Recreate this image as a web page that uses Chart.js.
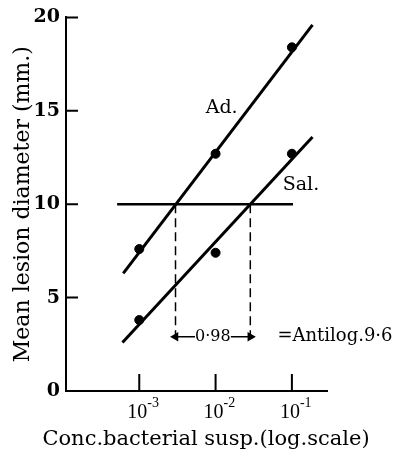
<!DOCTYPE html>
<html>
<head>
<meta charset="utf-8">
<script src="https://cdn.jsdelivr.net/npm/chart.js@4.4.0/dist/chart.umd.min.js"></script>
<style>
html, body { margin: 0; padding: 0; background: #fff; }
canvas { display: block; }
</style>
</head>
<body>
<canvas id="mycanvas" width="394" height="452"></canvas>
<script>
// log10 of the concentration, with superscript labels
var concLog = [-3, -2, -1];
var concExp = ['-3', '-2', '-1'];
var yTicks = [0, 5, 10, 15, 20];

// mean lesion diameter (mm.)
var adDiam = [7.6, 12.7, 18.4];
var salDiam = [3.8, 7.4, 12.7];

// fitted lines (end points, log conc / mm.)
var adFitX = [-3.21, -0.73];
var adFitY = [6.3, 19.6];
var salFitX = [-3.22, -0.73];
var salFitY = [2.6, 13.6];

// 10 mm. level and where the lines cross it
var refLevel = 10;
var refX = [-3.29, -0.985];
var crossX = [-2.525, -1.545];
var bracketY = 2.9;
var bracketText = '0·98';
var antilogText = '=Antilog.9·6';

var serif = '"DejaVu Serif", serif';

function pts(xs, ys) {
	var out = [];
	for (var i in xs) out.push({x: xs[i], y: ys[i]});
	return out;
}
function level(xs, v) {
	return xs.map(function(x) { return {x: x, y: v}; });
}

var paperPlugin = {
	id: 'paper',
	afterDraw: function(chart) {
		var ctx = chart.ctx;
		var xs = chart.scales.x, ys = chart.scales.y;
		ctx.save();
		ctx.strokeStyle = '#000';
		ctx.fillStyle = '#000';
		ctx.lineWidth = 2;
		ctx.beginPath();
		yTicks.forEach(function(v) {
			if (v === 0) return;
			var py = ys.getPixelForValue(v);
			ctx.moveTo(xs.left, py);
			ctx.lineTo(xs.left + 12, py);
		});
		concLog.forEach(function(v) {
			var px = xs.getPixelForValue(v);
			ctx.moveTo(px, ys.bottom);
			ctx.lineTo(px, ys.bottom - 17);
		});
		ctx.stroke();

		// x tick labels 10^n
		ctx.textBaseline = 'alphabetic';
		concLog.forEach(function(v, i) {
			var px = xs.getPixelForValue(v);
			ctx.font = '20px "Liberation Serif", serif';
			ctx.textAlign = 'right';
			ctx.fillText('10', px + 8, 418);
			ctx.font = '14px "Liberation Serif", serif';
			ctx.textAlign = 'left';
			ctx.fillText(concExp[i], px + 8, 407);
		});

		// line labels
		ctx.textBaseline = 'middle';
		ctx.textAlign = 'left';
		ctx.font = '19px ' + serif;
		ctx.fillText('Ad.', xs.getPixelForValue(-2.13), ys.getPixelForValue(15.15));
		ctx.fillText('Sal.', xs.getPixelForValue(-1.12), ys.getPixelForValue(11.0));

		// bracket text
		ctx.font = '16px ' + serif;
		ctx.textAlign = 'center';
		ctx.fillText(bracketText, xs.getPixelForValue((crossX[0] + crossX[1]) / 2), ys.getPixelForValue(bracketY));
		ctx.font = '18px ' + serif;
		ctx.textAlign = 'left';
		ctx.fillText(antilogText, xs.getPixelForValue(-1.19), ys.getPixelForValue(bracketY));

		// x title
		ctx.font = '21px ' + serif;
		ctx.textAlign = 'center';
		ctx.textBaseline = 'alphabetic';
		ctx.fillText('Conc.bacterial susp.(log.scale)', 206, 445);
		ctx.restore();
	}
};

var lineStyle = {borderColor: '#000', backgroundColor: '#000', showLine: true, pointRadius: 0, borderWidth: 3};

var chartdata = {
	datasets: [
		{label: 'Ad.', data: pts(concLog, adDiam), showLine: false, pointRadius: 4.5, backgroundColor: '#000', borderColor: '#000'},
		{label: 'Sal.', data: pts(concLog, salDiam), showLine: false, pointRadius: 4.5, backgroundColor: '#000', borderColor: '#000'},
		Object.assign({label: 'Ad. fit', data: pts(adFitX, adFitY)}, lineStyle),
		Object.assign({label: 'Sal. fit', data: pts(salFitX, salFitY)}, lineStyle),
		Object.assign({label: '10 mm.', data: level(refX, refLevel)}, lineStyle, {borderWidth: 2.5}),
		Object.assign({label: 'cross 1', data: [{x: crossX[0], y: refLevel}, {x: crossX[0], y: bracketY}]}, lineStyle, {borderWidth: 1.5, borderDash: [9, 5]}),
		Object.assign({label: 'cross 2', data: [{x: crossX[1], y: refLevel}, {x: crossX[1], y: bracketY}]}, lineStyle, {borderWidth: 1.5, borderDash: [9, 5]}),
		Object.assign({label: 'arrow L', data: [{x: crossX[0], y: bracketY}, {x: -2.27, y: bracketY}]}, lineStyle, {borderWidth: 1.5, pointStyle: 'triangle', pointRotation: 270, pointRadius: [4, 0]}),
		Object.assign({label: 'arrow R', data: [{x: -1.80, y: bracketY}, {x: crossX[1], y: bracketY}]}, lineStyle, {borderWidth: 1.5, pointStyle: 'triangle', pointRotation: 90, pointRadius: [0, 4]})
	]
};

var ctx = document.getElementById('mycanvas');

var graph = new Chart(ctx, {
	type: 'scatter',
	data: chartdata,
	plugins: [paperPlugin],
	options: {
		responsive: false,
		animation: false,
		devicePixelRatio: 1,
		layout: {padding: {top: 17, right: 67, bottom: 0, left: 0}},
		plugins: {legend: {display: false}, tooltip: {enabled: false}},
		scales: {
			x: {
				type: 'linear',
				min: -3.96,
				max: -0.54,
				grid: {display: false},
				border: {display: true, color: '#000', width: 2},
				ticks: {display: false},
				afterFit: function(s) { s.height = 61; }
			},
			y: {
				min: 0,
				max: 20,
				afterBuildTicks: function(s) { s.ticks = yTicks.map(function(v) { return {value: v}; }); },
				grid: {display: false, drawTicks: false},
				border: {display: true, color: '#000', width: 2},
				ticks: {color: '#000', padding: 6, font: {family: serif, size: 19, weight: 'bold'}},
				title: {display: true, text: 'Mean lesion diameter (mm.)', color: '#000', font: {family: serif, size: 22}, padding: {top: 10, bottom: 0}},
				afterFit: function(s) { s.width = 66; }
			}
		}
	}
});
</script>
</body>
</html>
